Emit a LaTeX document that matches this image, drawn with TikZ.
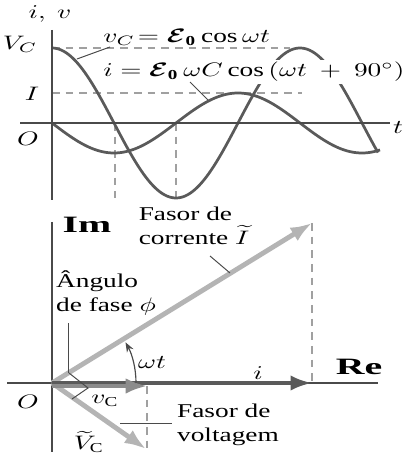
\documentclass[tikz,border=0pt]{standalone}
\usepackage{amsmath}
\usepackage{bm}
\usepackage{fontspec}
\setmainfont{Liberation Serif}
\usetikzlibrary{arrows.meta, positioning, calc}
\definecolor{axgray}{HTML}{4A4A4A}
\definecolor{wvgray}{HTML}{5A5A5A}
\definecolor{dsgray}{HTML}{A0A0A0}
\definecolor{phlight}{HTML}{B4B4B4}
\definecolor{phmid}{HTML}{8C8C8C}
\definecolor{phdark}{HTML}{5A5A5A}
\newcommand{\emfo}{\bm{\mathcal{E}}_{\mathbf{0}}}

\begin{document}
\begin{tikzpicture}[x=0.018cm, y=-0.018cm,
      tx/.style={transform shape, xscale=1.4, inner sep=1pt},
      lb/.style={tx, align=left},
      bd/.style={transform shape, xscale=1.7, inner sep=1pt, font=\large\bfseries},
      ax/.style={axgray, line width=1.4pt},
      wv/.style={wvgray, line width=1.4pt},
      gd/.style={dsgray, dash pattern=on 4pt off 3pt, line width=0.6pt},
      ptr/.style={axgray, line width=0.5pt},
      ph/.style={line width=2.5pt, -{Latex[length=11pt, width=8pt]}}]
      \useasboundingbox (0,0) rectangle (407,453);

      % time graph
      \draw[gd] (52,48) -- (290,48);
      \draw[gd] (52,93) -- (302,93);
      \draw[gd] (115,123) -- (115,198);
      \draw[gd] (176,123) -- (176,198);
      \draw[wv] plot[domain=52:378, samples=140] (\x,{123-75*cos((\x-52)*1.4516)});
      \draw[wv] plot[domain=52:380, samples=140] (\x,{123+30*sin((\x-52)*1.4516)});
      \draw[ax] (52,30) -- (52,200);
      \draw[ax] (20,123) -- (390,123);

      \node[tx] (ivlab) at (50,14) {$i,\ v$};
      \node[tx] (vclab) at (20,44) {$V_C$};
      \node[tx] (ilab) at (32,94) {$I$};
      \node[tx] (o1) at (28,139) {$O$};
      \node[tx] (tlab) at (398,128) {$t$};
      \node[tx, anchor=west] (veq) at (100,37) {$v_C\!= \emfo\cos\omega t$};
      \node[tx, anchor=west, fill=white] (ieq) at (100,72) {$i =\emfo\,\omega C\cos\,(\omega t\ +\ 90^\circ)$};
      \coordinate (vpt) at (77,59);
      \coordinate (vend) at (110,47);
      \coordinate (ipt) at (208,100);
      \coordinate (iend) at (190,82);
      \draw[ptr] (vpt) -- (vend);
      \draw[ptr] (ipt) -- (iend);

      % phasor diagram
      \coordinate (O) at (52,383);
      \coordinate (Itip) at (312,223);
      \coordinate (Ifoot) at (312,383);
      \coordinate (itip) at (312,383);
      \coordinate (vtip) at (147,386);
      \coordinate (vfoot) at (147,450);
      \coordinate (Vtip) at (146,449);
      \draw[gd] (Itip) -- (Ifoot);
      \draw[gd] (vtip) -- (vfoot);
      \draw[ax] (52,222) -- (52,452);
      \draw[ax] (7,383) -- (378,383);
      \draw[ph, phlight] (O) -- (Itip);
      \draw[ph, phlight] (O) -- (Vtip);
      \draw[ph, phdark] (O) -- (itip);
      \draw[ph, phmid, line width=1.8pt] ($(O)+(0,3)$) -- (vtip);

      \coordinate (ra1) at (69,373);
      \coordinate (ra2) at (88,388);
      \coordinate (ra3) at (72,399);
      \draw[ptr] (ra1) -- (ra2) -- (ra3);
      \draw[ptr, line width=0.6pt, -{Stealth[length=5pt]}] ($(O)+(84,0)$) arc[start angle=0, end angle=-29, radius=84];

      \node[bd] (im) at (87,225) {Im};
      \node[bd] (re) at (359,367) {Re};
      \node[tx] (o2) at (28,402) {$O$};
      \node[tx] (wt) at (152,362) {$\omega t$};
      \node[tx] (ilb) at (258,373) {$i$};
      \node[tx] (vclb) at (105,401) {$v_{\mathrm{C}}$};
      \node[tx] (Vclb) at (89,442) {$\widetilde{V}_{\mathrm{C}}$};
      \node[lb] (fcor) at (194,226) {Fasor de\\corrente $\widetilde{I}$};
      \node[lb] (fang) at (106,293) {Ângulo\\de fase $\phi$};
      \node[lb] (fvol) at (228,425) {Fasor de\\voltagem};
      \coordinate (cpt) at (230,273);
      \coordinate (cend) at (210,256);
      \coordinate (apt) at (68,373);
      \coordinate (aend) at (68,323);
      \coordinate (vpt2) at (120,423);
      \coordinate (vend2) at (172,423);
      \draw[ptr] (cend) -- (cpt);
      \draw[ptr] (aend) -- (apt);
      \draw[ptr] (vpt2) -- (vend2);
\end{tikzpicture}
\end{document}
